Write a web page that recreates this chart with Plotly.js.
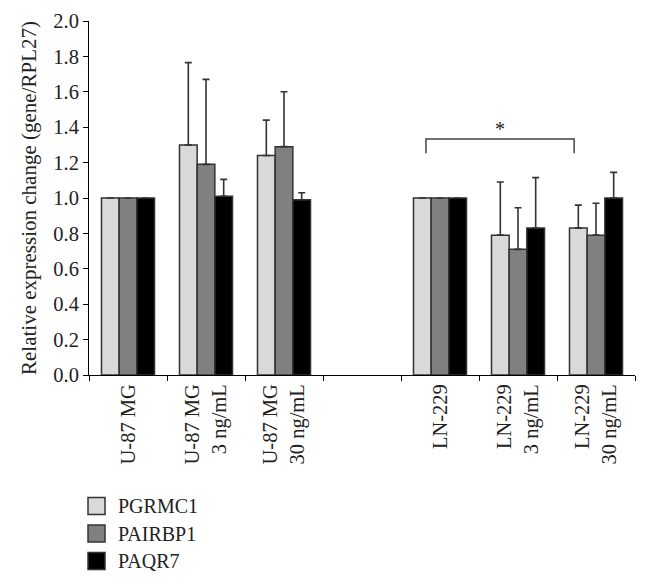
<!DOCTYPE html>
<html><head><meta charset="utf-8">
<script src="https://cdn.plot.ly/plotly-3.0.1.min.js"></script>
<style>html,body{margin:0;padding:0;background:#fff}#chart{width:650px;height:585px}</style>
</head><body><div id="chart"></div>
<script>
// ---- data ----
const categories = ['U-87 MG', 'U-87 MG<br>3 ng/mL', 'U-87 MG<br>30 ng/mL', ' ', 'LN-229', 'LN-229<br>3 ng/mL', 'LN-229<br>30 ng/mL'];
const seriesNames = ['PGRMC1', 'PAIRBP1', 'PAQR7'];
const PGRMC1  = [1.00, 1.30, 1.24, null, 1.00, 0.79, 0.83];
const PAIRBP1 = [1.00, 1.19, 1.29, null, 1.00, 0.71, 0.79];
const PAQR7   = [1.00, 1.01, 0.99, null, 1.00, 0.83, 1.00];
const PGRMC1_err  = [null, 0.465, 0.20, null, null, 0.30, 0.13];
const PAIRBP1_err = [null, 0.48, 0.31, null, null, 0.235, 0.18];
const PAQR7_err   = [null, 0.095, 0.04, null, null, 0.285, 0.145];
const yTickVals = [0, 0.2, 0.4, 0.6, 0.8, 1.0, 1.2, 1.4, 1.6, 1.8, 2.0];
const sigFrom = 'LN-229';
const sigTo = 'LN-229<br>30 ng/mL';
const sigY = 1.333;
const sigLabel = '*';

// ---- styling ----
const colors = ['#d9d9d9', '#808080', '#000000'];
const edge = '#333333';
const font = "'Liberation Serif', 'DejaVu Serif', serif";
const txt = '#222222';
const W = 650, H = 585, mL = 89, mR = 15, mT = 21, mB = 210;
const pw = W - mL - mR, ph = H - mT - mB;
const px2x = p => (p - mL) / pw;
const px2y = p => (H - mB - p) / ph;

const values = [PGRMC1, PAIRBP1, PAQR7];
const errs = [PGRMC1_err, PAIRBP1_err, PAQR7_err];

const traces = seriesNames.map((name, i) => ({
  type: 'bar', name: name, x: categories, y: values[i],
  marker: {color: colors[i], line: {color: edge, width: 1.5}},
  error_y: {type: 'data', symmetric: false, array: errs[i], arrayminus: errs[i].map(e => e == null ? null : 0),
            color: edge, thickness: 1.6, width: 3.5},
  showlegend: false, hoverinfo: 'x+y'
}));

const shapes = [];
const annotations = [];
// significance bracket
const iFrom = categories.indexOf(sigFrom), iTo = categories.indexOf(sigTo);
const bx0 = iFrom - 0.18, bx1 = iTo - 0.28, yDrop = sigY - 0.08;
shapes.push({type: 'path', xref: 'x', yref: 'y',
  path: `M${bx0},${yDrop} L${bx0},${sigY} L${bx1},${sigY} L${bx1},${yDrop}`,
  line: {color: '#444', width: 1.5}});
annotations.push({xref: 'x', yref: 'y', x: (bx0 + bx1) / 2, y: sigY, yanchor: 'bottom', yshift: -3,
  text: sigLabel, showarrow: false, font: {family: font, size: 20, color: txt}});

// custom legend
const legTop = 506, legStep = 27.5, sw = 17;
seriesNames.forEach((name, i) => {
  const cy = legTop + i * legStep;
  shapes.push({type: 'rect', xref: 'paper', yref: 'paper',
    x0: px2x(88), x1: px2x(88 + sw), y0: px2y(cy - sw / 2), y1: px2y(cy + sw / 2),
    fillcolor: colors[i], line: {color: edge, width: 1.5}});
  annotations.push({xref: 'paper', yref: 'paper', x: px2x(116), y: px2y(cy), xanchor: 'left', yanchor: 'middle',
    text: name, showarrow: false, font: {family: font, size: 20, color: txt}});
});

const layout = {
  width: W, height: H,
  margin: {l: mL, r: mR, t: mT, b: mB, pad: 0},
  paper_bgcolor: '#fff', plot_bgcolor: '#fff',
  barmode: 'group', bargap: 0.32, bargroupgap: 0,
  font: {family: font, color: txt},
  xaxis: {type: 'category', categoryorder: 'array', categoryarray: categories,
    tickson: 'boundaries', ticks: 'outside', ticklen: 5, tickcolor: '#000', tickwidth: 1,
    showline: true, linecolor: '#000', linewidth: 1, showgrid: false, zeroline: false,
    tickangle: -90, tickfont: {family: font, size: 20.5, color: txt}, automargin: false},
  yaxis: {range: [0, 2], tickvals: yTickVals, tickformat: '.1f', ticks: 'outside', ticklen: 5,
    tickcolor: '#000', tickwidth: 1, showline: true, linecolor: '#000', linewidth: 1,
    showgrid: false, zeroline: false, tickfont: {family: font, size: 20.5, color: txt},
    title: {text: 'Relative expression change (gene/RPL27)', font: {family: font, size: 21, color: txt}, standoff: 10},
    automargin: false},
  shapes: shapes, annotations: annotations
};

Plotly.newPlot('chart', traces, layout, {staticPlot: true, displayModeBar: false});
</script></body></html>
